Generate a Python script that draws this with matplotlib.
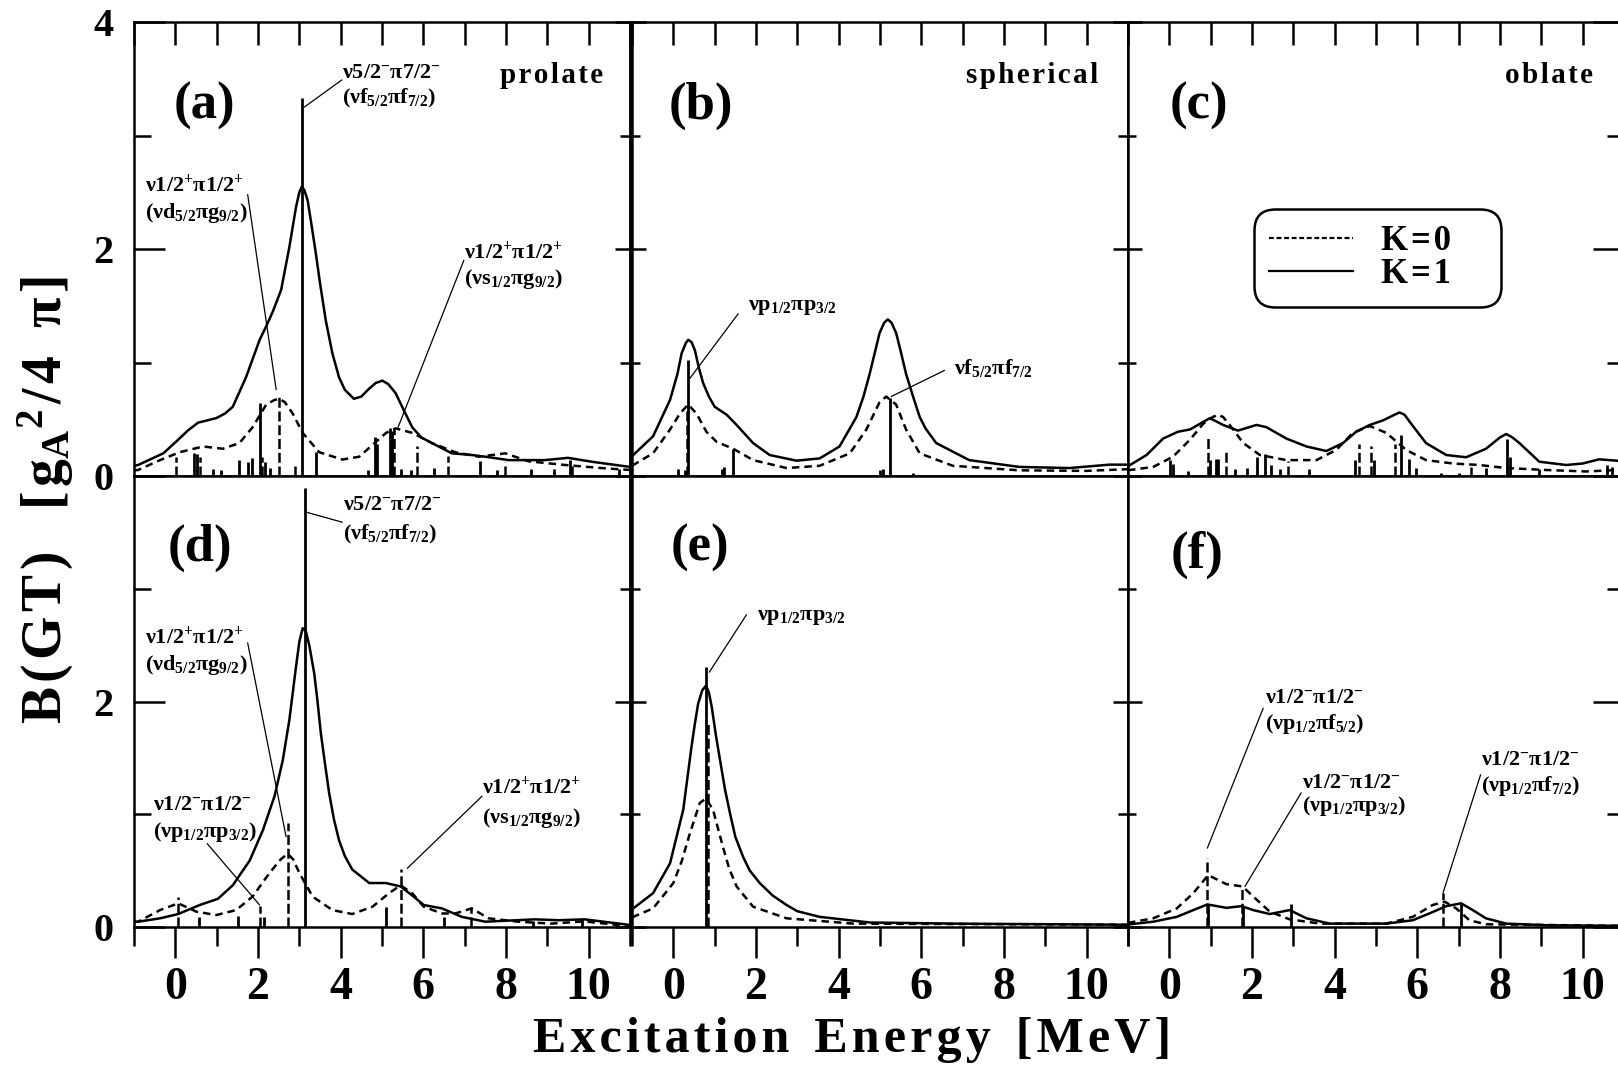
import matplotlib
matplotlib.use('Agg')
import matplotlib.pyplot as plt
from matplotlib.ticker import MultipleLocator, FixedLocator, FixedFormatter
from matplotlib.lines import Line2D

plt.rcParams['font.family'] = ['Liberation Serif', 'DejaVu Serif']
plt.rcParams['font.weight'] = 'bold'
plt.rcParams['mathtext.fontset'] = 'custom'
plt.rcParams['mathtext.rm'] = 'Liberation Serif:bold'
plt.rcParams['mathtext.it'] = 'Liberation Serif:bold'
plt.rcParams['mathtext.bf'] = 'Liberation Serif:bold'
plt.rcParams['mathtext.default'] = 'regular'

# ---------------- data ----------------
shapes = ['prolate', 'spherical', 'oblate']
panel_labels = ['(a)', '(b)', '(c)', '(d)', '(e)', '(f)']
legend_labels = ['K = 0', 'K = 1']
xtick_labels = ['0', '2', '4', '6', '8', '10']

# (a)
a_k1_x = [-1.0, -0.9, -0.29, 0.07, 0.3, 0.55, 0.99, 1.2, 1.39, 1.71, 2.04, 2.2, 2.36, 2.56, 2.76, 2.92, 3.0, 3.06, 3.12, 3.2, 3.3, 3.4, 3.5, 3.64, 3.8, 3.96, 4.1, 4.32, 4.5, 4.69, 4.85, 5.01, 5.15, 5.33, 5.5, 5.73, 5.95, 6.21, 6.69, 7.17, 7.5, 8.06, 8.94, 9.5, 10.07, 11.0]
a_k1_y = [0.09, 0.097, 0.2, 0.32, 0.4, 0.47, 0.51, 0.55, 0.61, 0.87, 1.2, 1.32, 1.45, 1.64, 2.02, 2.37, 2.5, 2.55, 2.52, 2.43, 2.2, 1.96, 1.7, 1.37, 1.08, 0.87, 0.76, 0.68, 0.7, 0.77, 0.82, 0.84, 0.81, 0.73, 0.6, 0.43, 0.34, 0.29, 0.2, 0.185, 0.17, 0.14, 0.14, 0.16, 0.126, 0.08]
a_k0_x = [-1.0, -0.9, -0.37, 0.11, 0.67, 1.15, 1.55, 1.87, 2.2, 2.4, 2.52, 2.65, 2.84, 3.08, 3.48, 4.04, 4.45, 4.85, 5.1, 5.33, 5.73, 6.21, 6.77, 7.34, 7.98, 8.54, 9.34, 10.3, 11.0]
a_k0_y = [0.05, 0.053, 0.14, 0.21, 0.26, 0.24, 0.29, 0.43, 0.63, 0.67, 0.68, 0.65, 0.55, 0.38, 0.21, 0.145, 0.17, 0.3, 0.38, 0.42, 0.38, 0.29, 0.21, 0.17, 0.2, 0.13, 0.1, 0.07, 0.053]
a_s1_x = [0.45, 0.53, 0.9, 1.1, 1.55, 1.76, 1.85, 2.05, 2.16, 2.28, 3.06, 3.4, 4.65, 4.83, 4.88, 5.2, 5.25, 5.46, 5.7, 6.27, 7.38, 7.78, 8.6, 9.16, 9.56, 10.73]
a_s1_h = [0.2, 0.19, 0.06, 0.05, 0.14, 0.12, 0.16, 0.64, 0.12, 0.07, 3.33, 0.21, 0.05, 0.34, 0.28, 0.42, 0.4, 0.06, 0.05, 0.07, 0.13, 0.05, 0.06, 0.06, 0.14, 0.06]
a_s0_x = [0.01, 0.6, 2.1, 2.51, 2.89, 5.3, 5.85, 6.6, 7.97, 9.6]
a_s0_h = [0.17, 0.17, 0.17, 0.7, 0.09, 0.41, 0.26, 0.18, 0.12, 0.1]

# (b)
b_k1_x = [-1.0, -0.97, -0.49, -0.08, 0.1, 0.2, 0.3, 0.36, 0.44, 0.52, 0.62, 0.72, 0.86, 1.0, 1.29, 1.53, 1.93, 2.33, 2.98, 3.54, 4.02, 4.43, 4.6, 4.75, 4.99, 5.1, 5.19, 5.28, 5.39, 5.5, 5.63, 5.8, 5.96, 6.1, 6.36, 7.16, 8.37, 9.58, 10.55, 11.0]
b_k1_y = [0.18, 0.185, 0.35, 0.67, 0.9, 1.08, 1.17, 1.2, 1.18, 1.11, 0.95, 0.82, 0.7, 0.61, 0.54, 0.45, 0.29, 0.185, 0.135, 0.155, 0.26, 0.52, 0.7, 0.9, 1.26, 1.35, 1.38, 1.35, 1.26, 1.1, 0.9, 0.7, 0.52, 0.42, 0.29, 0.14, 0.08, 0.07, 0.1, 0.1]
b_k0_x = [-1.0, -0.97, -0.49, -0.08, 0.16, 0.36, 0.56, 0.8, 1.05, 1.45, 1.93, 2.74, 3.54, 4.27, 4.67, 4.99, 5.15, 5.39, 5.63, 5.96, 6.76, 8.37, 9.98, 11.0]
b_k0_y = [0.095, 0.097, 0.2, 0.41, 0.55, 0.63, 0.55, 0.39, 0.3, 0.24, 0.14, 0.07, 0.09, 0.2, 0.41, 0.65, 0.7, 0.63, 0.41, 0.2, 0.09, 0.05, 0.045, 0.06]
b_s1_x = [0.12, 0.28, 0.36, 1.17, 1.22, 1.45, 4.99, 5.07, 5.25, 5.8]
b_s1_h = [0.06, 0.05, 1.02, 0.06, 0.08, 0.24, 0.05, 0.06, 0.69, 0.03]
b_s0_x = [0.34]
b_s0_h = [0.62]

# (c)
c_k1_x = [-1.0, -0.95, -0.55, -0.15, 0.21, 0.5, 0.74, 0.98, 1.3, 1.66, 2.11, 2.35, 2.83, 3.32, 3.8, 4.2, 4.52, 4.85, 5.17, 5.45, 5.57, 5.69, 5.81, 6.21, 6.7, 7.18, 7.66, 8.0, 8.15, 8.3, 8.47, 8.95, 9.6, 10.0, 10.4, 11.0]
c_k1_y = [0.09, 0.097, 0.185, 0.33, 0.39, 0.41, 0.46, 0.51, 0.45, 0.4, 0.45, 0.43, 0.33, 0.26, 0.22, 0.29, 0.39, 0.45, 0.49, 0.54, 0.56, 0.54, 0.48, 0.29, 0.185, 0.165, 0.24, 0.34, 0.37, 0.34, 0.29, 0.126, 0.097, 0.11, 0.147, 0.13]
c_k0_x = [-1.0, -0.95, -0.39, 0.09, 0.5, 0.82, 1.05, 1.18, 1.3, 1.46, 1.79, 2.19, 2.83, 3.56, 4.04, 4.44, 4.85, 5.25, 5.73, 6.21, 6.86, 7.5, 8.15, 9.11, 10.08, 11.0]
c_k0_y = [0.05, 0.053, 0.08, 0.17, 0.32, 0.46, 0.52, 0.54, 0.52, 0.45, 0.29, 0.185, 0.14, 0.14, 0.23, 0.38, 0.44, 0.38, 0.23, 0.14, 0.11, 0.097, 0.07, 0.053, 0.04, 0.055]
c_s1_x = [0.01, 0.1, 0.46, 0.99, 1.12, 1.18, 1.6, 1.88, 2.11, 2.31, 2.47, 2.67, 3.39, 4.48, 4.96, 5.61, 5.81, 5.97, 6.57, 7.02, 7.66, 8.17, 8.23, 8.95, 10.6, 10.7]
c_s1_h = [0.14, 0.11, 0.04, 0.14, 0.15, 0.15, 0.06, 0.07, 0.17, 0.19, 0.1, 0.06, 0.06, 0.14, 0.14, 0.36, 0.15, 0.07, 0.03, 0.03, 0.07, 0.33, 0.17, 0.06, 0.1, 0.08]
c_s0_x = [0.94, 1.37, 2.87, 4.58, 4.88, 5.45, 7.3]
c_s0_h = [0.36, 0.21, 0.13, 0.28, 0.26, 0.28, 0.08]

# (d)
d_k1_x = [-1.0, -0.9, -0.37, 0.07, 0.59, 1.03, 1.39, 1.8, 2.12, 2.4, 2.6, 2.76, 2.92, 3.0, 3.08, 3.16, 3.24, 3.36, 3.44, 3.52, 3.62, 3.72, 3.84, 3.96, 4.1, 4.28, 4.69, 5.09, 5.45, 5.73, 6.01, 6.45, 6.93, 7.5, 8.7, 9.27, 9.9, 11.0]
d_k1_y = [0.045, 0.047, 0.077, 0.115, 0.195, 0.25, 0.37, 0.59, 0.86, 1.16, 1.48, 1.84, 2.31, 2.53, 2.65, 2.62, 2.5, 2.25, 2.0, 1.72, 1.45, 1.19, 0.95, 0.77, 0.63, 0.51, 0.39, 0.39, 0.36, 0.28, 0.195, 0.165, 0.09, 0.047, 0.068, 0.06, 0.068, 0.018]
d_k0_x = [-1.0, -0.9, -0.37, 0.07, 0.51, 0.99, 1.47, 1.87, 2.28, 2.55, 2.72, 2.85, 3.0, 3.32, 3.8, 4.28, 4.77, 5.17, 5.45, 5.73, 6.01, 6.45, 6.77, 7.17, 7.58, 8.3, 9.1, 9.9, 11.0]
d_k0_y = [0.045, 0.047, 0.15, 0.21, 0.136, 0.106, 0.15, 0.27, 0.48, 0.6, 0.65, 0.6, 0.48, 0.27, 0.15, 0.115, 0.18, 0.3, 0.37, 0.3, 0.18, 0.12, 0.12, 0.165, 0.077, 0.047, 0.03, 0.05, 0.006]
d_s1_x = [0.57, 1.51, 2.15, 3.13, 5.09, 6.49, 8.65, 9.85]
d_s1_h = [0.09, 0.1, 0.09, 3.89, 0.18, 0.09, 0.05, 0.07]
d_s0_x = [0.07, 2.04, 2.72, 5.45, 7.15]
d_s0_h = [0.27, 0.19, 0.92, 0.51, 0.18]

# (e)
e_k1_x = [-1.0, -0.97, -0.49, -0.08, 0.24, 0.44, 0.52, 0.6, 0.7, 0.79, 0.86, 0.93, 1.03, 1.13, 1.25, 1.37, 1.5, 1.69, 1.85, 2.09, 2.4, 2.74, 3.0, 3.54, 4.75, 6.77, 11.0]
e_k1_y = [0.16, 0.165, 0.3, 0.565, 1.04, 1.6, 1.8, 1.98, 2.1, 2.14, 2.08, 1.95, 1.7, 1.48, 1.22, 1.01, 0.8, 0.62, 0.5, 0.39, 0.28, 0.195, 0.14, 0.09, 0.04, 0.03, 0.02]
e_k0_x = [-1.0, -0.97, -0.49, 0.0, 0.2, 0.4, 0.64, 0.79, 0.96, 1.2, 1.35, 1.53, 1.93, 2.74, 4.35, 11.0]
e_k0_y = [0.088, 0.09, 0.165, 0.39, 0.58, 0.83, 1.1, 1.14, 1.04, 0.71, 0.52, 0.36, 0.18, 0.077, 0.03, 0.02]
e_s1_x = [0.79]
e_s1_h = [2.31]
e_s0_x = [0.83]
e_s0_h = [1.8]

# (f)
f_k1_x = [-1.0, -0.95, -0.39, 0.18, 0.58, 0.92, 1.38, 1.75, 2.03, 2.43, 2.91, 3.32, 3.88, 5.25, 5.89, 6.29, 6.7, 7.06, 7.34, 7.66, 8.15, 9.2, 11.0]
f_k1_y = [0.02, 0.024, 0.047, 0.09, 0.15, 0.2, 0.17, 0.185, 0.15, 0.115, 0.15, 0.077, 0.03, 0.03, 0.06, 0.12, 0.185, 0.21, 0.15, 0.077, 0.03, 0.015, 0.01]
f_k0_x = [-1.0, -0.95, -0.39, 0.18, 0.58, 0.94, 1.38, 1.77, 2.03, 2.43, 2.91, 3.64, 5.25, 5.89, 6.37, 6.66, 6.94, 7.26, 7.66, 11.0]
f_k0_y = [0.035, 0.04, 0.077, 0.165, 0.3, 0.46, 0.38, 0.36, 0.27, 0.136, 0.068, 0.03, 0.03, 0.09, 0.195, 0.225, 0.165, 0.06, 0.024, 0.01]
f_s1_x = [0.93, 1.79, 2.94, 7.05]
f_s1_h = [0.2, 0.18, 0.2, 0.2]
f_s0_x = [0.92, 1.77, 6.63]
f_s0_h = [0.61, 0.36, 0.3]

panels = [
    (a_k1_x, a_k1_y, a_k0_x, a_k0_y, a_s1_x, a_s1_h, a_s0_x, a_s0_h),
    (b_k1_x, b_k1_y, b_k0_x, b_k0_y, b_s1_x, b_s1_h, b_s0_x, b_s0_h),
    (c_k1_x, c_k1_y, c_k0_x, c_k0_y, c_s1_x, c_s1_h, c_s0_x, c_s0_h),
    (d_k1_x, d_k1_y, d_k0_x, d_k0_y, d_s1_x, d_s1_h, d_s0_x, d_s0_h),
    (e_k1_x, e_k1_y, e_k0_x, e_k0_y, e_s1_x, e_s1_h, e_s0_x, e_s0_h),
    (f_k1_x, f_k1_y, f_k0_x, f_k0_y, f_s1_x, f_s1_h, f_s0_x, f_s0_h),
]

# annotation texts
L_52 = r'ν5/2$^{-}$π7/2$^{-}$'
L_f52f72 = r'(νf$_{5/2}$πf$_{7/2}$)'
L_pp = r'ν1/2$^{+}$π1/2$^{+}$'
L_d52g92 = r'(νd$_{5/2}$πg$_{9/2}$)'
L_s12g92 = r'(νs$_{1/2}$πg$_{9/2}$)'
L_mm = r'ν1/2$^{-}$π1/2$^{-}$'
L_p12p32 = r'(νp$_{1/2}$πp$_{3/2}$)'
L_p12f52 = r'(νp$_{1/2}$πf$_{5/2}$)'
L_p12f72 = r'(νp$_{1/2}$πf$_{7/2}$)'
L_b1 = r'νp$_{1/2}$πp$_{3/2}$'
L_b2 = r'νf$_{5/2}$πf$_{7/2}$'

# (panel, lines, text x, line y's, pointer from (x,y) to (x,y))
annotations = [
    (0, [L_52, L_f52f72], 4.04, [3.55, 3.33], (4.03, 3.49, 3.12, 3.25)),
    (0, [L_pp, L_d52g92], -0.73, [2.56, 2.32], (1.75, 2.48, 2.44, 0.76)),
    (0, [L_pp, L_s12g92], 6.98, [1.97, 1.74], (6.98, 1.90, 5.39, 0.43)),
    (1, [L_b1], 1.80, [1.49], (1.57, 1.43, 0.40, 0.86)),
    (1, [L_b2], 6.80, [0.95], (6.56, 0.93, 5.27, 0.70)),
    (3, [L_52, L_f52f72], 4.06, [3.74, 3.48], (4.04, 3.59, 3.16, 3.68)),
    (3, [L_pp, L_d52g92], -0.73, [2.57, 2.32], (1.75, 2.52, 2.68, 0.80)),
    (3, [L_mm, L_p12p32], -0.55, [1.08, 0.84], (0.77, 0.74, 2.04, 0.195)),
    (3, [L_pp, L_s12g92], 7.42, [1.24, 0.97], (7.42, 1.16, 5.61, 0.52)),
    (4, [L_b1], 2.02, [2.75], (1.77, 2.77, 0.87, 2.26)),
    (5, [L_mm, L_p12f52], 2.31, [2.03, 1.80], (2.27, 1.94, 0.92, 0.70)),
    (5, [L_mm, L_p12p32], 3.2, [1.28, 1.07], (3.19, 1.19, 1.83, 0.36)),
    (5, [L_mm, L_p12f72], 7.55, [1.48, 1.25], (7.53, 1.35, 6.62, 0.30)),
]

# ---------------- layout ----------------
W, H = 1618, 1074
fig = plt.figure(figsize=(W / 100, H / 100), dpi=100)
col_left = [134, 632, 1128]
col_w = 496
rows = [(22, 476), (476, 927)]

HS = '\u200a'


def spaced(s):
    return HS.join(list(s))


LW = 1.8
axes = []
for r in range(2):
    for c in range(3):
        y0, y1 = rows[r]
        ax = fig.add_axes([col_left[c] / W, 1 - y1 / H, col_w / W, (y1 - y0) / H])
        axes.append(ax)
        ax.set_xlim(-1, 11)
        ax.set_ylim(0, 4)
        for sp in ax.spines.values():
            sp.set_linewidth(LW)
        ax.xaxis.set_major_locator(MultipleLocator(2))
        ax.xaxis.set_minor_locator(MultipleLocator(1))
        ax.yaxis.set_major_locator(MultipleLocator(2))
        ax.yaxis.set_minor_locator(MultipleLocator(1))
        if r == 0:
            ax.tick_params(axis='x', which='both', direction='in', top=True, bottom=False,
                           labeltop=False, labelbottom=False, length=16.5, width=LW)
        else:
            ax.tick_params(axis='x', which='major', direction='out', top=False, bottom=True,
                           length=22, width=LW, labelsize=33, pad=7)
            ax.tick_params(axis='x', which='minor', direction='out', top=False, bottom=True,
                           length=14, width=LW)
            ax.xaxis.set_major_locator(FixedLocator([0, 2, 4, 6, 8, 10]))
            ax.xaxis.set_major_formatter(FixedFormatter(xtick_labels))
        if c == 0:
            ax.tick_params(axis='y', which='major', direction='in', left=True, right=False,
                           length=22, width=LW, labelsize=29, pad=15)
            ax.tick_params(axis='y', which='minor', direction='in', left=True, right=False,
                           length=12, width=LW)
            ax.yaxis.set_major_locator(FixedLocator([0, 2, 4]))
            if r == 0:
                ax.yaxis.set_major_formatter(FixedFormatter(['0', '2', '4']))
            else:
                ax.yaxis.set_major_formatter(FixedFormatter(['0', '2', '']))
        else:
            ax.tick_params(axis='y', which='major', direction='in', left=True, right=False,
                           length=10, width=LW, labelleft=False)
            ax.tick_params(axis='y', which='minor', direction='in', left=True, right=False,
                           length=6, width=LW)
        sec = ax.secondary_yaxis('right')
        sec.yaxis.set_major_locator(MultipleLocator(2))
        sec.yaxis.set_minor_locator(MultipleLocator(1))
        long_r = (c == 2)
        sec.tick_params(axis='y', which='major', direction='in', length=22 if long_r else 11,
                        width=LW, labelright=False)
        sec.tick_params(axis='y', which='minor', direction='in', length=12 if long_r else 7,
                        width=LW)
        sec.spines['right'].set_linewidth(LW)

for i, ax in enumerate(axes):
    k1x, k1y, k0x, k0y, s1x, s1h, s0x, s0h = panels[i]
    ax.vlines(s1x, 0, s1h, colors='k', linewidth=2.0, zorder=2)
    ax.vlines(s0x, 0, s0h, colors='k', linewidth=1.8, linestyles=(0, (4, 1.5)), zorder=2)
    ax.plot(k0x, k0y, color='k', lw=LW, ls=(0, (3.0, 2.0)), zorder=3,
            solid_joinstyle='round', dash_joinstyle='round')
    ax.plot(k1x, k1y, color='k', lw=LW, ls='-', zorder=3, solid_joinstyle='round')

label_pos = [(0.71, 3.26), (0.66, 3.26), (0.71, 3.26), (0.59, 3.36), (0.64, 3.36), (0.66, 3.30)]
for i, ax in enumerate(axes):
    ax.text(label_pos[i][0], label_pos[i][1], panel_labels[i], ha='center', va='center',
            fontsize=38, fontweight='bold')

shape_x = [10.35, 10.28, 10.25]
for c in range(3):
    axes[c].text(shape_x[c], 3.46, spaced(shapes[c]), ha='right', va='baseline',
                 fontsize=21, fontweight='bold')

for (pi, lines, tx, tys, p) in annotations:
    ax = axes[pi]
    for s, ty in zip(lines, tys):
        ax.text(tx, ty, s, ha='left', va='center', fontsize=16, fontweight='bold', zorder=5)
    ax.annotate('', xy=(p[2], p[3]), xytext=(p[0], p[1]),
                arrowprops=dict(arrowstyle='-', lw=0.9, color='k', shrinkA=0, shrinkB=0))

h0 = Line2D([], [], color='k', lw=1.6, ls=(0, (2.2, 1.2)))
h1 = Line2D([], [], color='k', lw=1.6, ls='-')
leg = axes[2].legend([h0, h1], [spaced(t.replace(' ', '')) + '    ' for t in legend_labels],
                     loc='center', bbox_to_anchor=(0.503, 0.48),
                     prop={'weight': 'bold', 'size': 25}, handlelength=2.4,
                     handletextpad=0.8, labelspacing=0.02, borderpad=0.45,
                     fancybox=True, framealpha=1, edgecolor='k')
leg.get_frame().set_linewidth(1.8)
leg.get_frame().set_boxstyle('round', pad=0.0, rounding_size=0.6)

fig.text(852 / W, 1 - 1040 / H, spaced('Excitation') + '  ' + spaced('Energy') + '  ' + spaced('[MeV]'),
         ha='center', va='center', fontsize=36, fontweight='bold')
fig.text(46 / W, 1 - 500 / H,
         spaced('B(GT)') + '   [' + HS + r'g$_{A}$$^{2}$' + HS + '/' + HS + '4' + '  ' + 'π' + HS + ']',
         ha='center', va='center', rotation=90, fontsize=40, fontweight='bold')

fig.savefig('out.png', dpi=100)
